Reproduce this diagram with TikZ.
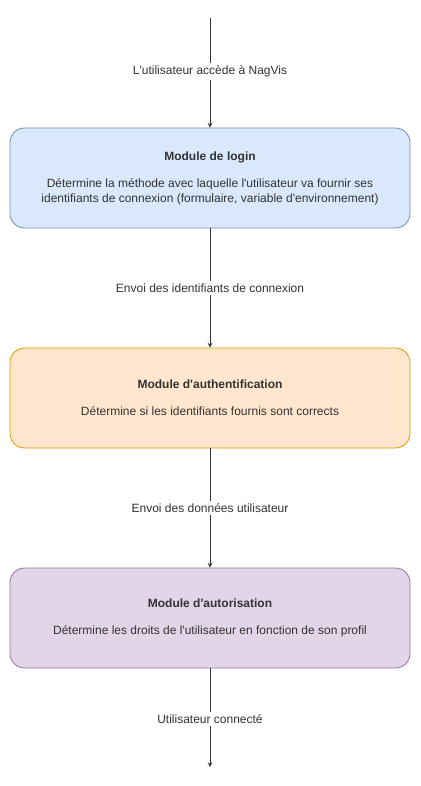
\documentclass[tikz,border=0pt]{standalone}
\usepackage{fontspec}
\setmainfont{Liberation Sans}
\usepackage{tikz}
\usepackage{xcolor}
\usetikzlibrary{positioning, arrows}

\definecolor{bleuFond}{HTML}{DAE8FC}
\definecolor{bleuBord}{HTML}{6C8EBF}
\definecolor{orangeFond}{HTML}{FFE6CC}
\definecolor{orangeBord}{HTML}{D79B00}
\definecolor{violetFond}{HTML}{E1D5E7}
\definecolor{violetBord}{HTML}{9673A6}
\definecolor{texte}{HTML}{333333}
\newcommand{\apos}{\textquotesingle}

\begin{document}
\begin{tikzpicture}[x=0.75pt, y=-0.75pt,
    module/.style={rectangle, rounded corners=11pt, draw, line width=0.6pt, minimum width=300pt, minimum height=75pt, align=center, text=texte, font=\fontsize{9}{11.25}\selectfont},
    etiq/.style={fill=white, text=texte, inner sep=2pt, font=\fontsize{9}{11.25}\selectfont}]
                    \useasboundingbox (0, 0) rectangle (421, 786);

                    \coordinate (debut) at (210, 18);
                    \node[module, fill=bleuFond, draw=bleuBord] (login) at (210, 178) {\textbf{Module de login}\\[9pt]D\'etermine la m\'ethode avec laquelle l\apos utilisateur va fournir ses\\identifiants de connexion (formulaire, variable d\apos environnement)};
                    \node[module, fill=orangeFond, draw=orangeBord] (authent) at (210, 398) {\textbf{Module d\apos authentification}\\[9pt]D\'etermine si les identifiants fournis sont corrects};
                    \node[module, fill=violetFond, draw=violetBord] (autor) at (210, 618) {\textbf{Module d\apos autorisation}\\[9pt]D\'etermine les droits de l\apos utilisateur en fonction de son profil};
                    \coordinate (fin) at (210, 767);

                    \draw[-stealth, texte, line width=0.6pt] (debut) -- node[etiq, pos=0.49] {L\apos utilisateur acc\`ede \`a NagVis} (login);
                    \draw[-stealth, texte, line width=0.6pt] (login) -- node[etiq, pos=0.5] {Envoi des identifiants de connexion} (authent);
                    \draw[-stealth, texte, line width=0.6pt] (authent) -- node[etiq, pos=0.5] {Envoi des donn\'ees utilisateur} (autor);
                    \draw[-stealth, texte, line width=0.6pt] (autor) -- node[etiq, pos=0.51] {Utilisateur connect\'e} (fin);
                \end{tikzpicture}
\end{document}
